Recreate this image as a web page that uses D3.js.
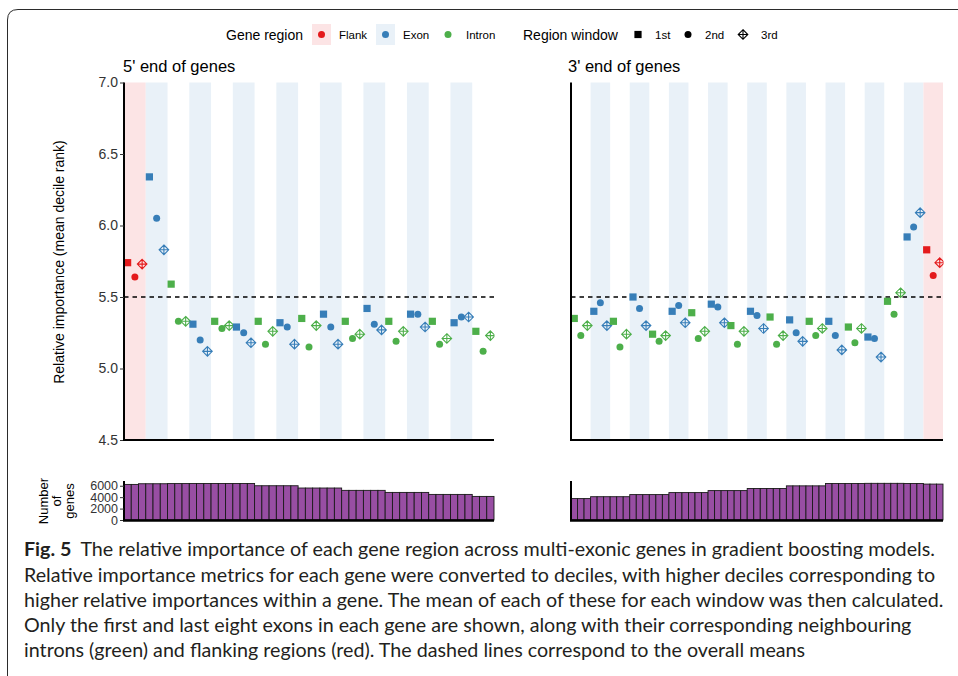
<!DOCTYPE html>
<html><head><meta charset="utf-8">
<script src="https://cdn.jsdelivr.net/npm/d3@7"></script>
<style>body{margin:0;background:#fff}svg{display:block}</style>
</head><body>
<script>
// ---------- data ----------
const regionTypes = ["Flank", "Exon", "Intron"];
const windowLabels = ["1st", "2nd", "3rd"];
const yTicks = [4.5, 5.0, 5.5, 6.0, 6.5, 7.0];
const countTicks = [0, 2000, 4000, 6000];
const overallMean = 5.5;

// 5' end: flank, then exon/intron pairs (3 windows each)
const leftRegions = ["Flank","Exon","Intron","Exon","Intron","Exon","Intron","Exon","Intron",
                     "Exon","Intron","Exon","Intron","Exon","Intron","Exon","Intron"];
const leftImportance = [
  5.74, 5.64, 5.73,
  6.34, 6.05, 5.83,
  5.59, 5.33, 5.33,
  5.31, 5.20, 5.12,
  5.33, 5.28, 5.30,
  5.29, 5.25, 5.18,
  5.33, 5.17, 5.26,
  5.32, 5.29, 5.17,
  5.35, 5.15, 5.30,
  5.38, 5.29, 5.17,
  5.33, 5.21, 5.24,
  5.42, 5.31, 5.27,
  5.33, 5.19, 5.26,
  5.38, 5.38, 5.29,
  5.33, 5.17, 5.21,
  5.32, 5.36, 5.36,
  5.26, 5.12, 5.23
];
const leftGenes = [
  6230, 6230, 6350,
  6350, 6350, 6350,
  6380, 6380, 6380,
  6400, 6400, 6400,
  6400, 6400, 6400,
  6400, 6400, 6400,
  6000, 6000, 6000,
  6000, 6000, 6000,
  5600, 5600, 5600,
  5600, 5600, 5600,
  5190, 5190, 5190,
  5190, 5190, 5190,
  4830, 4830, 4830,
  4830, 4830, 4830,
  4480, 4480, 4480,
  4480, 4480, 4480,
  4130, 4130, 4130
];

// 3' end: intron/exon pairs, then flank
const rightRegions = ["Intron","Exon","Intron","Exon","Intron","Exon","Intron","Exon","Intron","Exon",
                      "Intron","Exon","Intron","Exon","Intron","Exon","Intron","Exon","Flank"];
const rightImportance = [
  5.35, 5.23, 5.30,
  5.40, 5.46, 5.30,
  5.33, 5.15, 5.24,
  5.50, 5.42, 5.30,
  5.24, 5.19, 5.23,
  5.40, 5.44, 5.32,
  5.39, 5.21, 5.26,
  5.45, 5.43, 5.32,
  5.30, 5.17, 5.26,
  5.40, 5.37, 5.28,
  5.36, 5.17, 5.23,
  5.34, 5.25, 5.19,
  5.33, 5.23, 5.28,
  5.33, 5.23, 5.13,
  5.29, 5.18, 5.28,
  5.22, 5.21, 5.08,
  5.47, 5.38, 5.53,
  5.92, 5.99, 6.09,
  5.83, 5.65, 5.74
];
const rightGenes = [
  3750, 3750, 3750,
  4080, 4080, 4080,
  4080, 4080, 4080,
  4450, 4450, 4450,
  4450, 4450, 4450,
  4800, 4800, 4800,
  4800, 4800, 4800,
  5150, 5150, 5150,
  5150, 5150, 5150,
  5520, 5520, 5520,
  5520, 5520, 5520,
  5980, 5980, 5980,
  5980, 5980, 5980,
  6400, 6400, 6400,
  6400, 6400, 6400,
  6420, 6420, 6420,
  6420, 6420, 6420,
  6400, 6400, 6400,
  6290, 6290, 6290
];

const panelTitles = ["5' end of genes", "3' end of genes"];
const captionBold = "Fig. 5";
const captionLines = [
  "The relative importance of each gene region across multi-exonic genes in gradient boosting models.",
  "Relative importance metrics for each gene were converted to deciles, with higher deciles corresponding to",
  "higher relative importances within a gene. The mean of each of these for each window was then calculated.",
  "Only the first and last eight exons in each gene are shown, along with their corresponding neighbouring",
  "introns (green) and flanking regions (red). The dashed lines correspond to the overall means"
];

// ---------- styles ----------
const colorOf = {Flank: "#E41A1C", Exon: "#377EB8", Intron: "#4DAF4A"};
const bandOf = {Flank: "#FCE4E5", Exon: "#E9F1F8", Intron: null};
const FONT = "'Liberation Sans', Arimo, Arial, Helvetica, sans-serif";

const W = 958, H = 676;
const svg = d3.select("body").append("svg").attr("width", W).attr("height", H)
  .attr("font-family", FONT);

// frame
svg.append("path").attr("d", `M7.5,${H} L7.5,20 Q7.5,9.5 18,9.5 L${W},9.5`)
  .attr("fill", "none").attr("stroke", "#2b2b2b").attr("stroke-width", 1);

const yTop = 82.5, yBot = 440;
const y = d3.scaleLinear().domain([4.5, 7]).range([yBot, yTop]);
const cTop = 481, cBot = 520;
const c = d3.scaleLinear().domain([0, 6830]).range([cBot, cTop]);

function drawSymbol(g, w, cx, cy, col) {
  if (w === 0) {
    g.append("rect").attr("x", cx - 3.6).attr("y", cy - 3.6).attr("width", 7.2).attr("height", 7.2).attr("fill", col);
  } else if (w === 1) {
    g.append("circle").attr("cx", cx).attr("cy", cy).attr("r", 3.5).attr("fill", col);
  } else {
    const r = 4.8;
    g.append("path").attr("transform", `translate(${cx},${cy})`)
      .attr("d", `M0,${-r}L${r},0L0,${r}L${-r},0Z M0,${-r}V${r} M${-r},0H${r}`)
      .attr("fill", "none").attr("stroke", col).attr("stroke-width", 1.1);
  }
}

function panel(x0, x1, regions, values, genes, showLabels, title, titleX) {
  const n = values.length;
  const x = d3.scaleBand().domain(d3.range(n)).range([x0, x1]).padding(0);
  const bw = x.bandwidth();
  const g = svg.append("g");

  // background bands
  regions.forEach((r, i) => {
    if (!bandOf[r]) return;
    g.append("rect").attr("x", x(3 * i)).attr("y", yTop)
      .attr("width", x(3 * i + 2) + bw - x(3 * i)).attr("height", yBot - yTop)
      .attr("fill", bandOf[r]);
  });

  // overall mean
  g.append("line").attr("x1", x0).attr("x2", x1).attr("y1", y(overallMean)).attr("y2", y(overallMean))
    .attr("stroke", "#000").attr("stroke-width", 1.3).attr("stroke-dasharray", "4.5,4");

  // points (clipped to panel)
  const clipId = "clip" + Math.round(x0);
  svg.append("clipPath").attr("id", clipId).append("rect")
    .attr("x", x0).attr("y", yTop - 10).attr("width", x1 - x0 + 0.5).attr("height", yBot - yTop + 20);
  const gp = g.append("g").attr("clip-path", `url(#${clipId})`);
  values.forEach((v, i) => {
    const reg = regions[Math.floor(i / 3)];
    drawSymbol(gp, i % 3, x(i) + bw / 2, y(v), colorOf[reg]);
  });

  // axes
  const ya = g.append("g").attr("transform", `translate(${x0},0)`)
    .call(d3.axisLeft(y).tickValues(yTicks).tickFormat(showLabels ? d3.format(".1f") : () => "")
      .tickSize(showLabels ? 4 : 0).tickSizeOuter(0));
  ya.attr("font-family", FONT);
  ya.select(".domain").attr("stroke", "#000").attr("stroke-width", 2).attr("d", `M0,${yTop}V${yBot + 1}`);
  ya.selectAll(".tick line").attr("stroke", "#333").attr("stroke-width", 1);
  ya.selectAll(".tick text").attr("font-size", 14).attr("fill", "#333").attr("font-family", FONT).attr("x", -6);

  g.append("line").attr("x1", x0 - 1).attr("x2", x1).attr("y1", yBot).attr("y2", yBot)
    .attr("stroke", "#000").attr("stroke-width", 2);

  // title
  svg.append("text").attr("x", titleX).attr("y", 72).attr("font-size", 16.5).attr("fill", "#000").text(title);

  // bars
  const gb = svg.append("g");
  gb.selectAll("rect").data(genes).join("rect")
    .attr("x", (d, i) => x(i)).attr("width", bw)
    .attr("y", d => c(d)).attr("height", d => cBot - c(d))
    .attr("fill", "#984EA3").attr("stroke", "#1a1a1a").attr("stroke-width", 0.9);
  const ca = gb.append("g").attr("transform", `translate(${x0},0)`)
    .call(d3.axisLeft(c).tickValues(countTicks).tickFormat(showLabels ? d3.format("d") : () => "")
      .tickSize(showLabels ? 4 : 0).tickSizeOuter(0));
  ca.attr("font-family", FONT);
  ca.select(".domain").attr("stroke", "#000").attr("stroke-width", 2).attr("d", `M0,${cTop}V${cBot + 1}`);
  ca.selectAll(".tick line").attr("stroke", "#333");
  ca.selectAll(".tick text").attr("font-size", 12.5).attr("fill", "#333").attr("font-family", FONT).attr("x", -6);
  gb.append("line").attr("x1", x0 - 1).attr("x2", x1).attr("y1", cBot + 0.5).attr("y2", cBot + 0.5)
    .attr("stroke", "#000").attr("stroke-width", 2.5);
}

panel(124, 494, leftRegions, leftImportance, leftGenes, true, panelTitles[0], 123);
panel(571, 943, rightRegions, rightImportance, rightGenes, false, panelTitles[1], 568);

// y axis titles
svg.append("text").attr("transform", "translate(64,262) rotate(-90)").attr("text-anchor", "middle")
  .attr("font-size", 14).attr("fill", "#000").text("Relative importance (mean decile rank)");
["Number", "of", "genes"].forEach((t, i) => {
  svg.append("text").attr("transform", `translate(${48 + i * 13},501) rotate(-90)`).attr("text-anchor", "middle")
    .attr("font-size", 13).attr("fill", "#000").text(t);
});

// legend
const lg = svg.append("g");
lg.append("text").attr("x", 226).attr("y", 39.5).attr("font-size", 14).text("Gene region");
const legX = [321.5, 385.5, 448];
const legTX = [339, 403, 466];
["Flank", "Exon", "Intron"].forEach((r, i) => {
  if (bandOf[r]) lg.append("rect").attr("x", legX[i] - 9.5).attr("y", 24).attr("width", 19).attr("height", 21).attr("fill", bandOf[r]);
  lg.append("circle").attr("cx", legX[i]).attr("cy", 34.5).attr("r", 3.5).attr("fill", colorOf[r]);
  lg.append("text").attr("x", legTX[i]).attr("y", 38.8).attr("font-size", 11.5).text(r);
});
lg.append("text").attr("x", 523).attr("y", 39.5).attr("font-size", 14).text("Region window");
const wX = [638, 688, 743];
const wTX = [655, 705, 761];
windowLabels.forEach((w, i) => {
  drawSymbol(lg, i, wX[i], 34.5, "#000");
  lg.append("text").attr("x", wTX[i]).attr("y", 38.8).attr("font-size", 11.5).text(w);
});

// caption
const CF = "Lato, 'Open Sans', sans-serif";
const cap = svg.append("g").attr("font-family", CF).attr("font-size", 19.7).attr("fill", "#231F20");
const capY = [556, 582, 607, 632, 657];
const t0 = cap.append("text").attr("x", 24).attr("y", capY[0]);
t0.append("tspan").attr("font-weight", "bold").text(captionBold);
t0.append("tspan").attr("dx", 9).text(captionLines[0]);
captionLines.slice(1).forEach((l, i) => {
  cap.append("text").attr("x", 24).attr("y", capY[i + 1]).text(l);
});
</script>
</body></html>
